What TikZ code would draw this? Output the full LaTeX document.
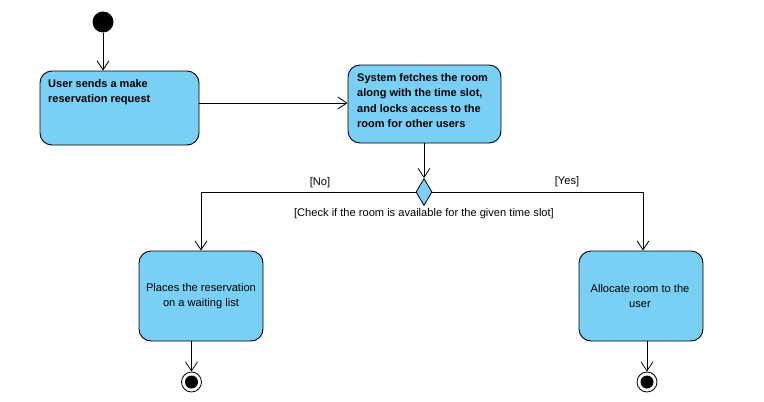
\documentclass[tikz,border=0pt]{standalone}
\usepackage{fontspec}
\setmainfont{Liberation Sans}
\usetikzlibrary{arrows.meta,shapes.geometric}
\definecolor{actfill}{HTML}{7ACFF5}
\tikzset{
  x=1pt,y=-1pt,
  act/.style={draw=black,fill=actfill,rounded corners=12pt,line width=0.9pt,inner sep=0pt},
  flow/.style={draw=black,line width=0.8pt,-{Straight Barb[length=9pt,width=12pt,line width=0.8pt]}},
  plain/.style={draw=black,line width=0.8pt},
  txt/.style={font=\fontsize{11.1}{15}\selectfont,inner sep=0pt},
  btxt/.style={font=\fontsize{11}{15.5}\selectfont\bfseries,inner sep=0pt,align=left,anchor=north west},
}
\begin{document}
\begin{tikzpicture}
\useasboundingbox[fill=white] (0,0) rectangle (764,402);
% initial
\node[circle,fill=black,minimum size=21pt,inner sep=0pt] (init) at (103,22) {};
% activities
\node[act,minimum width=159pt,minimum height=74pt] (a1) at (119.5,108) {};
\node[btxt] (t1) at (48,79) {User sends a make\\reservation request};
\node[act,minimum width=153pt,minimum height=78pt] (a2) at (424.5,104) {};
\node[btxt] (t2) at (357,73) {System fetches the room\\along with the time slot,\\and locks access to the\\room for other users};
\node[act,minimum width=124pt,minimum height=90pt] (a3) at (201,296) {};
\node[txt,align=center] (t3) at (201,296.5) {Places the reservation\\on a waiting list};
\node[act,minimum width=124pt,minimum height=90pt] (a4) at (641,296) {};
\node[txt,align=center] (t4) at (640,296.5) {Allocate room to the\\user};
% decision
\node[diamond,draw=black,fill=actfill,line width=0.8pt,inner sep=0pt,minimum width=16pt,minimum height=27pt,aspect=0.6] (dec) at (424,192) {};
% finals
\node[circle,draw=black,fill=white,line width=0.8pt,minimum size=20pt,inner sep=0pt] (f1) at (191.5,382) {};
\node[circle,fill=black,minimum size=13pt,inner sep=0pt] at (f1) {};
\node[circle,draw=black,fill=white,line width=0.8pt,minimum size=20pt,inner sep=0pt] (f2) at (647,382) {};
\node[circle,fill=black,minimum size=13pt,inner sep=0pt] at (f2) {};
% connectors
\draw[flow] (init) -- (init |- a1.north);
\draw[flow] (a1.east |- 0,103) -- (a2.west |- 0,103);
\draw[flow] (a2.south -| dec) -- (dec.north);
\draw[flow] (dec.west) -| (a3.north);
\draw[flow] (dec.east) -| ([xshift=2pt]a4.north);
\draw[flow] (a3.south -| f1) -- (f1.north);
\draw[flow] (a4.south -| f2) -- (f2.north);
% guards
\node[txt] (gno) at (320,183) {[No]};
\node[txt] (gyes) at (567,182) {[Yes]};
\node[txt] (gchk) at (424,214) {[Check if the room is available for the given time slot]};
\end{tikzpicture}
\end{document}
